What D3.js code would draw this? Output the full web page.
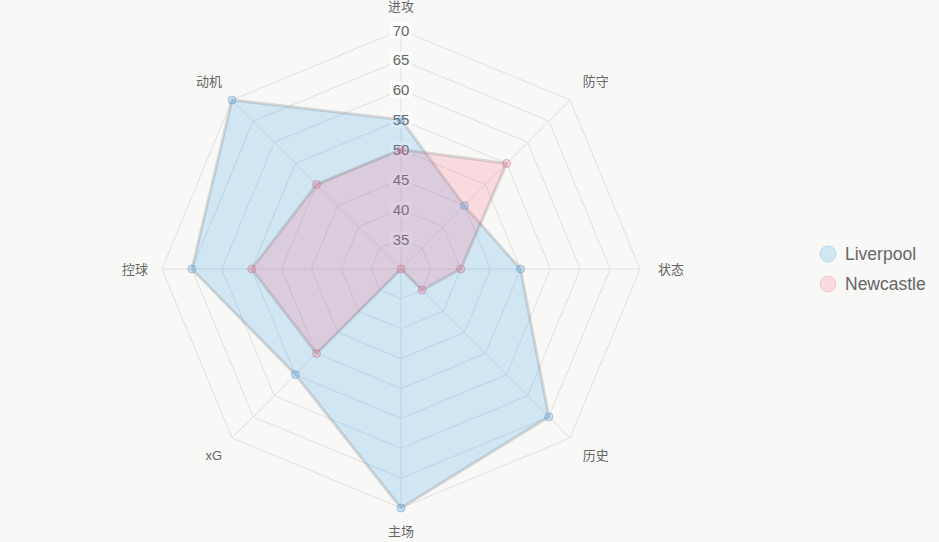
<!DOCTYPE html>
<meta charset="utf-8">
<script src="https://d3js.org/d3.v7.min.js"></script>
<style>
  body { margin: 0; background: #f8f8f6; }
  text { font-family: "Liberation Sans", Arial, "Noto Sans CJK SC", sans-serif; fill: #666; }
</style>
<body>
<div id="chart"></div>
<script>
// axes, clockwise from top
var axes = ["进攻", "防守", "状态", "历史", "主场", "xG", "控球", "动机"];
var liverpool = [55, 45, 50, 65, 70, 55, 65, 70];
var newcastle = [50, 55, 40, 35, 30, 50, 55, 50];
var ticks = [35, 40, 45, 50, 55, 60, 65, 70];
var seriesNames = ["Liverpool", "Newcastle"];

var width = 939, height = 542;
var cx = 401, cy = 269, R = 239;

var svg = d3.select("#chart").append("svg")
    .attr("width", width)
    .attr("height", height);

var r = d3.scaleLinear().domain([30, 70]).range([0, R]);
var angle = d3.scaleLinear().domain([0, axes.length]).range([0, 2 * Math.PI]);

function pt(i, v) {
  var a = angle(i) - Math.PI / 2;
  return [cx + r(v) * Math.cos(a), cy + r(v) * Math.sin(a)];
}

var g = svg.append("g");

// grid rings
ticks.forEach(function(t) {
  g.append("polygon")
    .attr("points", axes.map(function(d, i) { return pt(i, t).join(","); }).join(" "))
    .attr("fill", "none")
    .attr("stroke", "#e0e0e0")
    .attr("stroke-width", 1);
});

// angle lines
axes.forEach(function(d, i) {
  var p = pt(i, 70);
  g.append("line")
    .attr("x1", cx).attr("y1", cy)
    .attr("x2", p[0]).attr("y2", p[1])
    .attr("stroke", "#e0e0e0");
});

// tick labels with backdrop (under the datasets)
ticks.forEach(function(t) {
  var y = cy - r(t);
  g.append("rect")
    .attr("x", cx - 11).attr("y", y - 8)
    .attr("width", 22).attr("height", 16)
    .attr("fill", "rgba(255,255,255,0.75)");
  g.append("text")
    .attr("x", cx).attr("y", y)
    .attr("text-anchor", "middle")
    .attr("dominant-baseline", "central")
    .style("font-size", "15px")
    .text(t);
});

var colors = [
  {fill: "rgba(54,162,235,0.2)", point: "rgba(54,162,235,0.25)", pstroke: "rgba(90,130,170,0.4)"},
  {fill: "rgba(255,99,132,0.2)", point: "rgba(255,99,132,0.25)", pstroke: "rgba(170,100,130,0.4)"}
];

[liverpool, newcastle].forEach(function(data, k) {
  g.append("polygon")
    .attr("points", data.map(function(v, i) { return pt(i, v).join(","); }).join(" "))
    .attr("fill", colors[k].fill)
    .attr("stroke", "rgba(120,120,120,0.25)")
    .attr("stroke-width", 3)
    .attr("stroke-linejoin", "round");
});

[liverpool, newcastle].forEach(function(data, k) {
  g.selectAll(".pt" + k)
    .data(data)
    .enter().append("circle")
    .attr("cx", function(v, i) { return pt(i, v)[0]; })
    .attr("cy", function(v, i) { return pt(i, v)[1]; })
    .attr("r", 4)
    .attr("fill", colors[k].point)
    .attr("stroke", colors[k].pstroke)
    .attr("stroke-width", 1);
});

// point labels
axes.forEach(function(d, i) {
  var a = angle(i) - Math.PI / 2;
  var c = Math.cos(a), s = Math.sin(a);
  var anchor = c > 0.1 ? "start" : (c < -0.1 ? "end" : "middle");
  var pad = c < -0.1 ? 14 : 18;
  var x = cx + (R + pad) * c, y = cy + (R + 18) * s;
  var dy = s < -0.1 ? -6 : (s > 0.1 ? 5 : 0);
  g.append("text")
    .attr("x", x).attr("y", y + dy)
    .attr("text-anchor", anchor)
    .attr("dominant-baseline", "central")
    .style("font-size", "13px")
    .text(d);
});

// legend
var legend = svg.append("g");
seriesNames.forEach(function(name, k) {
  var y = 254 + k * 30;
  legend.append("circle")
    .attr("cx", 828).attr("cy", y).attr("r", 8)
    .attr("fill", colors[k].fill)
    .attr("stroke", colors[k].point)
    .attr("stroke-width", 1);
  legend.append("text")
    .attr("x", 845).attr("y", y)
    .attr("dominant-baseline", "central")
    .style("font-size", "17.5px")
    .text(name);
});
</script>
</body>
